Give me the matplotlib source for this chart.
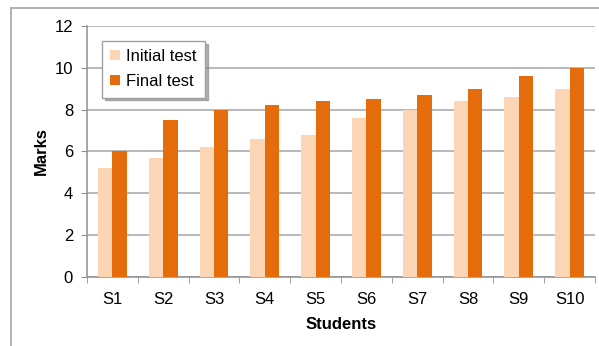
import numpy as np
import matplotlib.pyplot as plt
from matplotlib.lines import Line2D

students = ['S1', 'S2', 'S3', 'S4', 'S5', 'S6', 'S7', 'S8', 'S9', 'S10']
initial = [5.2, 5.7, 6.2, 6.6, 6.8, 7.6, 8.0, 8.4, 8.6, 9.0]
final = [6.0, 7.5, 8.0, 8.2, 8.4, 8.5, 8.7, 9.0, 9.6, 10.0]

plt.rcParams['font.family'] = ['Liberation Sans', 'DejaVu Sans']

W, H = 599, 346
fig = plt.figure(figsize=(W / 100, H / 100), dpi=100)
ax = fig.add_axes([87 / W, (H - 277) / H, 508 / W, 251 / H])

x = np.arange(len(students))
w = 0.285
ax.bar(x - w / 2, initial, w, color='#FCD5B5', label='Initial test', zorder=3)
ax.bar(x + w / 2, final, w, color='#E46C0A', label='Final test', zorder=3)

ax.set_xlim(-0.5, len(students) - 0.5)
ax.set_ylim(0, 12)
ax.set_yticks(range(0, 13, 2))
ax.yaxis.grid(True, color='#A6A6A6', linewidth=1.1, zorder=0)

# category labels sit in the middle, tick marks on the boundaries
ax.set_xticks(x)
ax.set_xticklabels(students, fontsize=12)
ax.set_xticks(np.arange(-0.5, len(students)), minor=True)
ax.tick_params(axis='x', which='major', length=0, pad=11)
ax.tick_params(axis='x', which='minor', length=4, color='#909090', direction='out')
ax.tick_params(axis='y', labelsize=12, length=4, color='#909090', pad=6)

for side in ['top', 'right']:
    ax.spines[side].set_visible(False)
for side in ['left', 'bottom']:
    ax.spines[side].set_color('#909090')
    ax.spines[side].set_linewidth(1.1)

ax.set_xlabel('Students', fontsize=12, fontweight='bold', labelpad=7)
ax.set_ylabel('Marks', fontsize=12, fontweight='bold', labelpad=4)

leg = ax.legend(loc='upper left', bbox_to_anchor=(15 / 508, 1 - 15 / 251),
                borderaxespad=0, fontsize=12, fancybox=False, framealpha=1,
                edgecolor='#A0A0A0', handlelength=0.55, handleheight=0.55,
                handletextpad=0.4, borderpad=0.5, labelspacing=0.6,
                shadow={'color': '#808080', 'alpha': 0.6})
leg.get_frame().set_linewidth(1.0)

# outer chart frame
fig.add_artist(Line2D([11 / W, 1], [1 - 8 / H, 1 - 8 / H], color='#A6A6A6', lw=1.2))
fig.add_artist(Line2D([11 / W, 11 / W], [0, 1 - 8 / H], color='#A6A6A6', lw=1.2))

fig.savefig('out.png', dpi=100)
